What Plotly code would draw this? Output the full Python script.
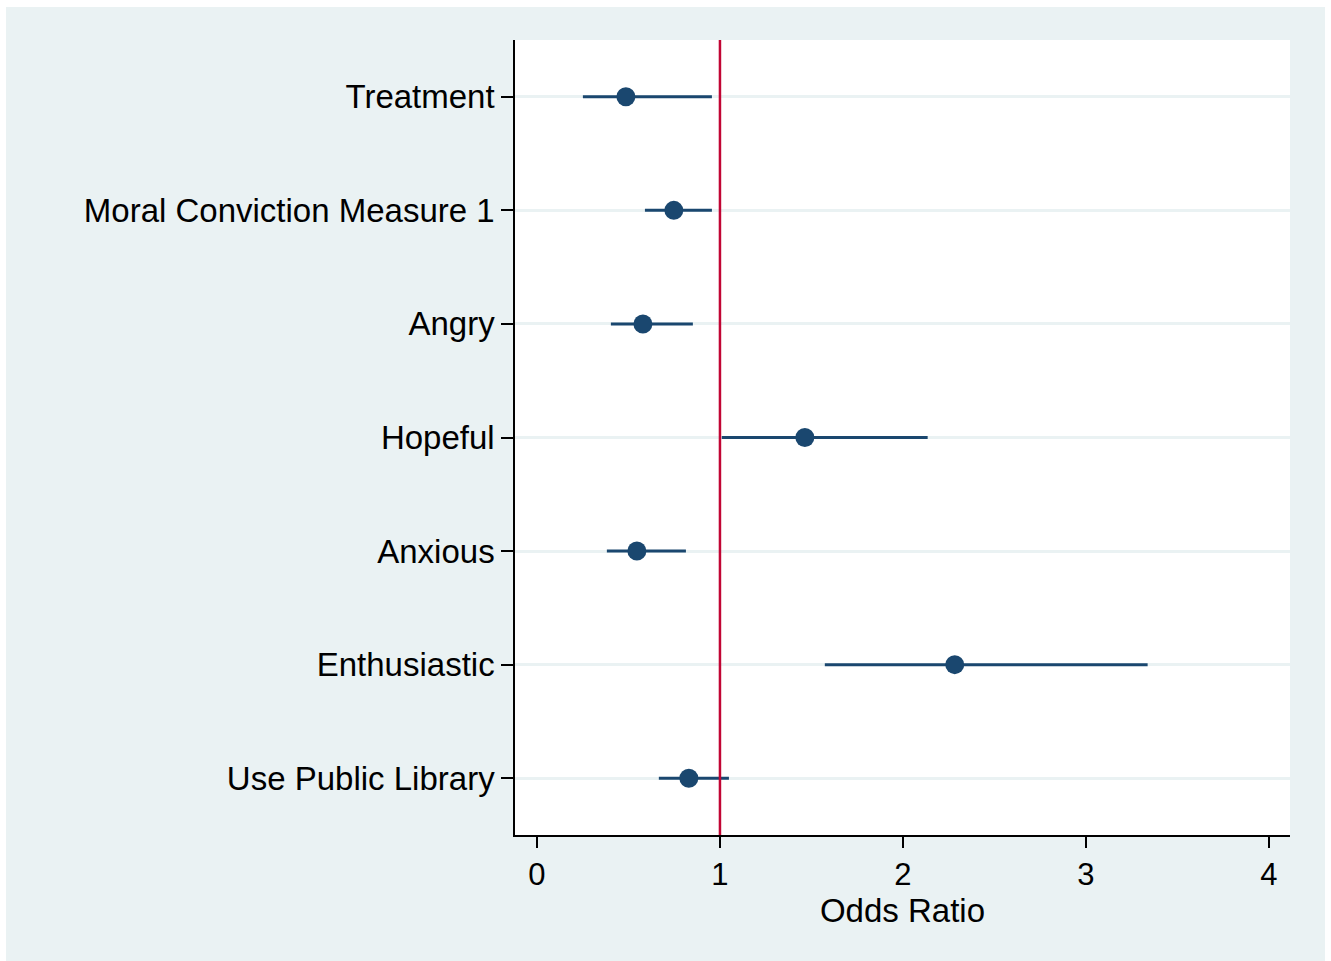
import plotly.graph_objects as go

categories = ["Treatment", "Moral Conviction Measure 1", "Angry", "Hopeful",
              "Anxious", "Enthusiastic", "Use Public Library"]
odds_ratio = [0.486, 0.748, 0.579, 1.464, 0.546, 2.283, 0.830]
ci_low = [0.251, 0.590, 0.404, 1.010, 0.382, 1.573, 0.666]
ci_high = [0.956, 0.956, 0.852, 2.135, 0.814, 3.337, 1.049]
x_ticks = [0, 1, 2, 3, 4]

NAVY = "#1A476F"
RED = "#C10534"
BG = "#EAF2F3"
FONT = "Liberation Sans"

ypos = list(range(1, len(categories) + 1))

fig = go.Figure()

# confidence intervals
for y, lo, hi in zip(ypos, ci_low, ci_high):
    fig.add_trace(go.Scatter(x=[lo, hi], y=[y, y], mode="lines",
                             line=dict(color=NAVY, width=3),
                             showlegend=False, hoverinfo="skip"))

fig.add_trace(go.Scatter(x=odds_ratio, y=ypos, mode="markers",
                         marker=dict(color=NAVY, size=19),
                         showlegend=False))

fig.update_layout(
    width=1331, height=961,
    margin=dict(l=515, r=41, t=40, b=126),
    paper_bgcolor="white",
    plot_bgcolor="rgba(0,0,0,0)",
    font=dict(family=FONT, size=30, color="black"),
    shapes=[
        dict(type="rect", xref="paper", yref="paper",
             x0=(6 - 515) / 775, x1=(1325 - 515) / 775,
             y0=(835 - 961) / 795, y1=(835 - 7) / 795,
             fillcolor=BG, line=dict(width=0), layer="below"),
        dict(type="rect", xref="paper", yref="paper",
             x0=0, x1=1, y0=0, y1=1,
             fillcolor="white", line=dict(width=0), layer="below"),
        dict(type="line", xref="x", yref="paper", x0=1, x1=1, y0=0, y1=1,
             line=dict(color=RED, width=2.5), layer="above"),
    ],
)

fig.update_xaxes(
    range=[-0.12, 4.115], tickvals=x_ticks, ticktext=[str(t) for t in x_ticks],
    showgrid=False, zeroline=False,
    showline=True, linecolor="black", linewidth=1.5,
    ticks="outside", ticklen=11, tickwidth=1.5, tickcolor="black",
    tickfont=dict(size=31),
    title=dict(text="Odds Ratio", font=dict(size=33), standoff=6),
)

fig.update_yaxes(
    range=[7.5, 0.5], tickvals=ypos, ticktext=categories,
    showgrid=True, gridcolor=BG, gridwidth=2.5, zeroline=False,
    showline=True, linecolor="black", linewidth=1.5,
    ticks="outside", ticklen=12, tickwidth=1.5, tickcolor="black",
    tickfont=dict(size=33),
)

fig.write_html(
    "out.html",
    config={"displayModeBar": False},
    post_script="document.body.style.margin='0';"
                "document.body.style.overflow='hidden';",
)
